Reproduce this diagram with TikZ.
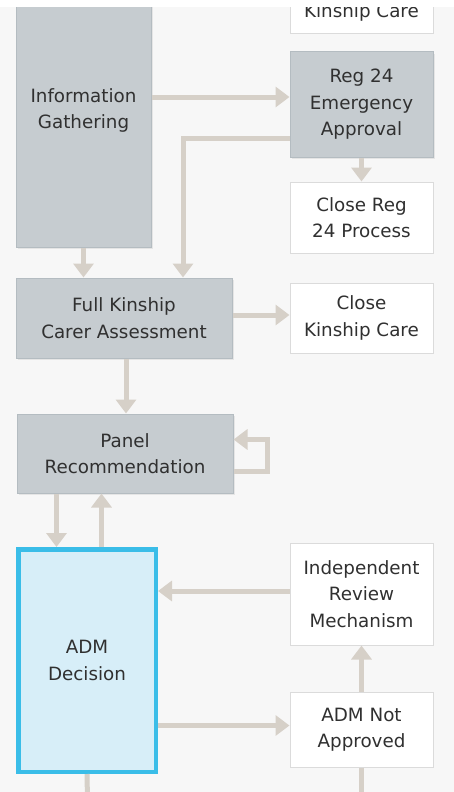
\documentclass[tikz,border=0pt]{standalone}
\usepackage{fontspec}
\setmainfont{DejaVu Sans}
\usetikzlibrary{arrows.meta,shadows}

\definecolor{paper}{HTML}{F7F7F7}
\definecolor{boxgray}{HTML}{C6CCD0}
\definecolor{boxline}{HTML}{B4BCC1}
\definecolor{flowcol}{HTML}{D6D0C8}
\definecolor{admfill}{HTML}{D7EEF8}
\definecolor{admline}{HTML}{3ABDE8}
\definecolor{ink}{HTML}{303030}

\begin{document}
\begin{tikzpicture}[x=1pt, y=-1pt,
  every node/.style={align=center, inner sep=0pt, text=ink, font=\fontsize{18.3}{26.5}\selectfont},
  graybox/.style={draw=boxline, fill=boxgray, line width=1pt, drop shadow={shadow xshift=1.5pt, shadow yshift=-2pt, opacity=0.15}},
  whitebox/.style={draw=black!14, fill=white, line width=1pt},
  admbox/.style={draw=admline, fill=admfill, line width=4.5pt, drop shadow={shadow xshift=1.5pt, shadow yshift=-2pt, opacity=0.15}},
  flowline/.style={draw=flowcol, line width=5pt},
  flow/.style={flowline, -{Triangle[length=14pt, width=20pt]}}]
  \useasboundingbox (0,0) rectangle (454,792);
  \clip (0,0) rectangle (454,792);
  \fill[paper] (0,0) rectangle (454,792);

  \node[graybox, minimum width=135, minimum height=273] (info) at (83.5,110.5) {Information\\Gathering};
  \node[whitebox, minimum width=143, minimum height=70] (closekintop) at (361.5,-1) {\vphantom{Cl}\\Kinship Care};
  \node[graybox, minimum width=143, minimum height=105] (reg24) at (361.5,104.5) {Reg 24\\Emergency\\Approval};
  \node[whitebox, minimum width=143, minimum height=71] (closereg) at (361.5,217.5) {Close Reg\\24 Process};
  \node[graybox, minimum width=216, minimum height=80] (full) at (124,318) {Full Kinship\\Carer Assessment};
  \node[whitebox, minimum width=143, minimum height=70] (closekin) at (361.5,318) {Close\\Kinship Care};
  \node[graybox, minimum width=216, minimum height=79] (panel) at (125,453.5) {Panel\\Recommendation};
  \node[admbox, minimum width=137.5, minimum height=222.5] (adm) at (87,660.5) {ADM\\Decision};
  \node[whitebox, minimum width=143, minimum height=102] (irm) at (361.5,594) {Independent\\Review\\Mechanism};
  \node[whitebox, minimum width=143, minimum height=75] (notappr) at (361.5,729.5) {ADM Not\\Approved};

  \coordinate (admexit) at (87.5,800);
  \coordinate (naexit) at (361.5,800);

  \draw[flow] ([yshift=7.5pt]reg24.west -| info.east) -- ([yshift=7.5pt]reg24.west);
  \draw[flow] (reg24.south) -- (closereg.north);
  \draw[flow] ([yshift=-34pt]reg24.west) -| ([xshift=59pt]full.north);
  \draw[flow] (info.south) -- (info.south |- full.north);
  \draw[flow] ([yshift=3pt]full.east) -- ([yshift=3pt]closekin.west);
  \draw[flow] ([xshift=2pt]full.south) -- ([xshift=2pt]full.south |- panel.north);
  \draw[flow] ([yshift=-18pt]panel.east) -- ++(33.5,0) |- ([yshift=14pt]panel.east);
  \draw[flow] ([xshift=-30.5pt]adm.north |- panel.south) -- ([xshift=-30.5pt]adm.north);
  \draw[flow] ([xshift=14.5pt]adm.north) -- ([xshift=14.5pt]adm.north |- panel.south);
  \draw[flow] ([yshift=3pt]irm.west) -- ([yshift=3pt]irm.west -| adm.east);
  \draw[flow] ([yshift=-65pt]adm.east) -- ([yshift=-65pt]adm.east -| notappr.west);
  \draw[flow] (notappr.north) -- (irm.south);
  \draw[flowline] (adm.south) -- (admexit);
  \draw[flowline] (notappr.south) -- (naexit);

  \fill[white] (0,0) rectangle (454,7);
\end{tikzpicture}
\end{document}
